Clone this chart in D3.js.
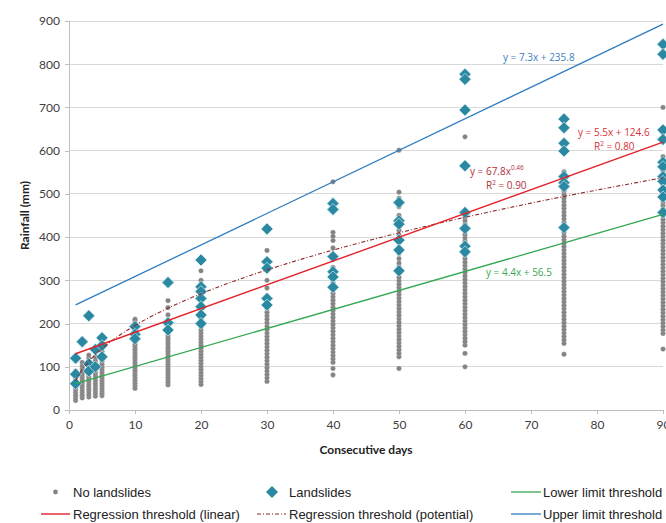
<!DOCTYPE html>
<html><head><meta charset="utf-8">
<script src="https://cdn.jsdelivr.net/npm/d3@7"></script>
<style>
body{margin:0;background:#fff;overflow:hidden}
svg{display:block}
</style></head><body>
<svg id="c" width="666" height="523"></svg>
<script>
// ---- data ----
const xTicks = [0,10,20,30,40,50,60,70,80,90];
const yTicks = [0,100,200,300,400,500,600,700,800,900];
const days = [1,2,3,4,5,10,15,20,30,40,50,60,75,90];
const noLandslides = [
  [22,28,34,40,46,52,58,64,70,76,82,90],
  [28,34,40,46,52,58,64,70,76,82,88,95,102,110],
  [30,36,42,48,54,60,66,72,78,84,90,96,104,112,120,127],
  [32,38,44,50,56,62,68,74,80,86,92,98,106,114,122],
  [33,39,45,51,57,63,69,75,81,87,93,99,106,113,120,128,136,145],
  [50,56,62,68,74,80,86,92,98,104,110,116,122,128,134,140,146,152,158,164,170,176,182,188,194,200,206,210],
  [58,64,70,76,82,88,94,100,106,112,118,124,130,136,142,148,154,160,166,172,178,190,205,220,237,253],
  [59,66,73,80,87,94,101,108,115,122,129,136,143,150,157,164,171,178,185,192,200,210,225,245,265,300,322],
  [66,74,82,90,98,106,114,122,130,138,146,154,162,170,178,186,194,202,210,218,226,234,242,250,262,282,300,330,369],
  [81,96,110,118,126,134,142,150,158,166,174,182,190,198,206,214,222,230,238,246,254,262,270,278,286,295,310,330,350,375,392,402,411,528],
  [96,123,131,139,147,155,163,171,179,187,195,203,211,219,227,235,243,251,259,267,275,283,291,299,307,315,323,331,340,350,362,375,390,405,416,430,450,470,490,504,601],
  [100,131,150,158,166,174,182,190,198,206,214,222,230,238,246,254,262,270,278,286,294,302,310,318,326,334,342,350,358,366,374,382,390,398,406,414,422,430,438,446,456,632],
  [129,154,162,170,178,186,194,202,210,218,226,234,242,250,258,266,274,282,290,298,306,314,322,330,338,346,354,362,370,378,386,394,402,410,418,426,434,442,450,458,466,474,482,490,498,506,514,522,530,540,551],
  [141,177,185,193,201,209,217,225,233,241,249,257,265,273,281,289,297,305,313,321,329,337,345,353,361,369,377,385,393,401,409,417,425,433,441,449,457,465,473,481,489,497,505,513,521,529,537,545,553,561,569,577,586,700]
];
const landslides = [
  [120,83,61],
  [158],
  [218,107,90],
  [140,100],
  [167,149,123],
  [193,175,165],
  [295,202,185],
  [347,285,274,258,239,220,200],
  [419,343,328,258,243],
  [478,464,355,320,308,284],
  [480,438,430,393,370,322],
  [777,765,694,565,457,420,379,366],
  [673,653,617,599,540,526,517,422],
  [846,823,648,626,573,563,540,529,509,493,457]
];
// trendline coefficients (from chart equations)
const lowerLimit = [4.4, 56.5];
const upperLimit = [7.3, 235.8];
const regLinear = [5.5, 124.6];
const regPower = [67.8, 0.46];
const fitRange = [1,90];

// ---- chart ----
const svg = d3.select("#c");
const x = d3.scaleLinear().domain([0,90]).range([69,663]);
const y = d3.scaleLinear().domain([0,900]).range([410,21]);
const tickFont = "Lato, 'Open Sans', sans-serif";

// gridlines
svg.append("g").selectAll("line").data(yTicks.filter(d=>d>0)).join("line")
  .attr("x1",x(0)).attr("x2",x(90)).attr("y1",d=>y(d)).attr("y2",d=>y(d))
  .attr("stroke","#d9d9d9").attr("stroke-width",1).attr("shape-rendering","crispEdges");

// axes
const yAxis = d3.axisLeft(y).tickValues(yTicks).tickSize(4).tickPadding(5);
const gy = svg.append("g").attr("transform",`translate(${x(0)},0)`).call(yAxis);
const xAxis = d3.axisBottom(x).tickValues(xTicks).tickSize(4).tickPadding(6);
const gx = svg.append("g").attr("transform",`translate(0,${y(0)})`).call(xAxis);
[gy,gx].forEach(g=>{
  g.select(".domain").attr("stroke","#bfbfbf").attr("shape-rendering","crispEdges");
  g.selectAll(".tick line").attr("stroke","#bfbfbf").attr("shape-rendering","crispEdges");
  g.selectAll(".tick text").attr("font-family",tickFont).attr("font-size",12).attr("fill","#404040");
});
gy.select(".domain").attr("d",`M-4,${y(900)}H0V${y(0)}H-4`);

// axis titles
svg.append("text").attr("transform",`translate(29,${(y(0)+y(900))/2}) rotate(-90)`)
  .attr("text-anchor","middle").attr("font-family",tickFont).attr("font-weight","bold")
  .attr("font-size",12).attr("fill","#222").text("Rainfall (mm)");
svg.append("text").attr("x",(x(0)+x(90))/2).attr("y",454)
  .attr("text-anchor","middle").attr("font-family",tickFont).attr("font-weight","bold")
  .attr("font-size",12).attr("fill","#222").text("Consecutive days");

// points
const grayPts = [];
days.forEach((d,i)=>noLandslides[i].forEach(v=>grayPts.push([d,v])));
svg.append("g").selectAll("circle").data(grayPts).join("circle")
  .attr("cx",d=>x(d[0])).attr("cy",d=>y(d[1])).attr("r",2.4)
  .attr("fill","#838383").attr("stroke","#a8a8a8").attr("stroke-width",0.4);

const diaPts = [];
days.forEach((d,i)=>landslides[i].forEach(v=>diaPts.push([d,v])));
const dia = "M0,-6L6,0L0,6L-6,0Z";
svg.append("g").selectAll("path").data(diaPts).join("path")
  .attr("d",dia).attr("transform",d=>`translate(${x(d[0])},${y(d[1])})`)
  .attr("fill","#2b88a1").attr("stroke","#d6ecf2").attr("stroke-width",0.7);

// trendlines
const line = d3.line().x(d=>x(d[0])).y(d=>y(d[1]));
function linPts(c){ return fitRange.map(t=>[t, c[0]*t + c[1]]); }
const powX = d3.range(fitRange[0], fitRange[1]+0.001, 0.5);
const powPts = powX.map(t=>[t, regPower[0]*Math.pow(t,regPower[1])]);

svg.append("path").attr("d",line(linPts(lowerLimit))).attr("fill","none").attr("stroke","#33a852").attr("stroke-width",1.3);
svg.append("path").attr("d",line(linPts(upperLimit))).attr("fill","none").attr("stroke","#2f7dc0").attr("stroke-width",1.3);
svg.append("path").attr("d",line(powPts)).attr("fill","none").attr("stroke","#8e2a2a").attr("stroke-width",1.1).attr("stroke-dasharray","4,2,1,2");
svg.append("path").attr("d",line(linPts(regLinear))).attr("fill","none").attr("stroke","#e4222a").attr("stroke-width",1.4);

// equation labels
const lab = svg.append("g").attr("font-family","'Open Sans', sans-serif").attr("font-size",10);
lab.append("text").attr("x",503).attr("y",61).attr("fill","#3a7fc1").text("y = 7.3x + 235.8");
lab.append("text").attr("x",578).attr("y",136).attr("fill","#d8323a").text("y = 5.5x + 124.6");
const r1 = lab.append("text").attr("x",594).attr("y",150).attr("fill","#d8323a");
r1.append("tspan").text("R");
r1.append("tspan").attr("font-size",6.5).attr("dy",-4).text("2");
r1.append("tspan").attr("dy",4).text(" = 0.80");
const p1 = lab.append("text").attr("x",470).attr("y",175).attr("fill","#b0303a");
p1.append("tspan").text("y = 67.8x");
p1.append("tspan").attr("font-size",6.5).attr("dy",-5).text("0.46");
const r2 = lab.append("text").attr("x",486).attr("y",189).attr("fill","#b0303a");
r2.append("tspan").text("R");
r2.append("tspan").attr("font-size",6.5).attr("dy",-4).text("2");
r2.append("tspan").attr("dy",4).text(" = 0.90");
lab.append("text").attr("x",486).attr("y",276).attr("fill","#3aa855").text("y = 4.4x + 56.5");

// legend
const lg = svg.append("g").attr("font-family","'Liberation Sans', Arial, sans-serif").attr("font-size",13).attr("fill","#222");
const r1y = 492, r2y = 514;
lg.append("circle").attr("cx",55.5).attr("cy",r1y).attr("r",2.4).attr("fill","#858585");
lg.append("text").attr("x",73).attr("y",r1y+4.7).text("No landslides");
lg.append("path").attr("d",dia).attr("transform",`translate(272,${r1y})`).attr("fill","#2b88a1");
lg.append("text").attr("x",289).attr("y",r1y+4.7).text("Landslides");
lg.append("line").attr("x1",511).attr("x2",541).attr("y1",r1y).attr("y2",r1y).attr("stroke","#33a852").attr("stroke-width",1.3);
lg.append("text").attr("x",543).attr("y",r1y+4.7).text("Lower limit threshold");
lg.append("line").attr("x1",41).attr("x2",70).attr("y1",r2y).attr("y2",r2y).attr("stroke","#e4222a").attr("stroke-width",1.4);
lg.append("text").attr("x",73).attr("y",r2y+4.7).text("Regression threshold (linear)");
lg.append("line").attr("x1",257).attr("x2",286).attr("y1",r2y).attr("y2",r2y).attr("stroke","#8e2a2a").attr("stroke-width",1.1).attr("stroke-dasharray","4,2,1,2");
lg.append("text").attr("x",289).attr("y",r2y+4.7).text("Regression threshold (potential)");
lg.append("line").attr("x1",511).attr("x2",541).attr("y1",r2y).attr("y2",r2y).attr("stroke","#2f7dc0").attr("stroke-width",1.3);
lg.append("text").attr("x",543).attr("y",r2y+4.7).text("Upper limit threshold");
</script>
</body></html>
